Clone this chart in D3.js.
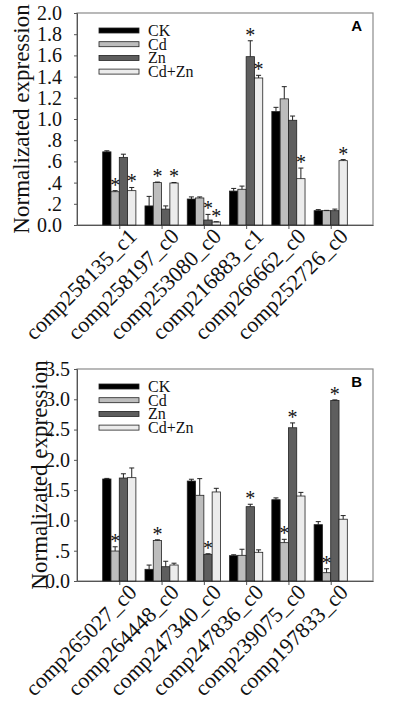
<!DOCTYPE html>
<html>
<head>
<meta charset="utf-8">
<script src="https://cdn.jsdelivr.net/npm/d3@7"></script>
<style>
  body { margin: 0; background: #fff; }
  svg text { font-family: "Liberation Serif", "DejaVu Serif", "Times New Roman", serif !important; }
  svg text.letter { font-family: "Liberation Sans", Arial, sans-serif !important; }
</style>
</head>
<body>
<div id="chart"></div>
<script>
// series names, shared by both panels
var series = ["CK", "Cd", "Zn", "Cd+Zn"];
var seriesColors = ["#000000", "#bdbdbd", "#5e5e5e", "#ececec"];

// Panel A data
var categoriesA = ["comp258135_c1", "comp258197_c0", "comp253080_c0", "comp216883_c1", "comp266662_c0", "comp252726_c0"];
var ckA = [0.69, 0.18, 0.245, 0.32, 1.07, 0.135];
var ckErrA = [0.01, 0.09, 0.02, 0.025, 0.04, 0.01];
var cdA = [0.314, 0.40, 0.255, 0.337, 1.19, 0.135];
var cdErrA = [0.01, 0.005, 0.01, 0.03, 0.115, 0.003];
var znA = [0.638, 0.15, 0.047, 1.588, 0.988, 0.135];
var znErrA = [0.03, 0.03, 0.053, 0.15, 0.04, 0.015];
var cdznA = [0.324, 0.396, 0.028, 1.387, 0.437, 0.607];
var cdznErrA = [0.03, 0.005, 0.003, 0.025, 0.1, 0.01];
// significance marks (1 = asterisk)
var starsA = [[0, 0, 0, 0, 0, 0], [1, 1, 0, 0, 0, 0], [0, 0, 1, 1, 0, 0], [1, 1, 1, 1, 1, 1]];
var ticksA = [0, 0.2, 0.4, 0.6, 0.8, 1.0, 1.2, 1.4, 1.6, 1.8, 2.0];
var tickLabelsA = ["0.0", ".2", ".4", ".6", ".8", "1.0", "1.2", "1.4", "1.6", "1.8", "2.0"];

// Panel B data
var categoriesB = ["comp265027_c0", "comp264448_c0", "comp247340_c0", "comp247836_c0", "comp239075_c0", "comp197833_c0"];
var ckB = [1.684, 0.193, 1.65, 0.418, 1.342, 0.93];
var ckErrB = [0.01, 0.07, 0.03, 0.015, 0.03, 0.05];
var cdB = [0.495, 0.67, 1.415, 0.424, 0.633, 0.137];
var cdErrB = [0.07, 0.01, 0.275, 0.1, 0.055, 0.065];
var znB = [1.70, 0.236, 0.44, 1.227, 2.53, 2.98];
var znErrB = [0.07, 0.09, 0.01, 0.04, 0.08, 0.01];
var cdznB = [1.706, 0.264, 1.47, 0.474, 1.403, 1.02];
var cdznErrB = [0.16, 0.03, 0.06, 0.04, 0.06, 0.06];
var starsB = [[0, 0, 0, 0, 0, 0], [1, 1, 0, 0, 1, 1], [0, 0, 1, 1, 1, 1], [0, 0, 0, 0, 0, 0]];
var ticksB = [0, 0.5, 1.0, 1.5, 2.0, 2.5, 3.0, 3.5];
var tickLabelsB = ["0.0", ".5", "1.0", "1.5", "2.0", "2.5", "3.0", "3.5"];

var W = 397, H = 709;
var svg = d3.select("#chart").append("svg")
    .attr("width", W)
    .attr("height", H);

function drawPanel(p) {
    var g = svg.append("g");
    var left = 77, right = 373;

    var x = d3.scalePoint()
        .domain(p.categories)
        .range([left, right])
        .padding(1);

    var xSub = d3.scaleBand()
        .domain(series)
        .range([-16.6, 16.6]);

    var y = d3.scaleLinear()
        .domain([0, p.ymax])
        .range([p.bottom, p.top]);

    // frame
    g.append("rect")
        .attr("x", left).attr("y", p.top)
        .attr("width", right - left).attr("height", p.bottom - p.top)
        .attr("fill", "none")
        .attr("stroke", "#8a8a8a")
        .attr("stroke-width", 1.2);

    // y axis
    var yAxis = g.append("g")
        .attr("transform", "translate(" + left + ",0)")
        .call(d3.axisLeft(y).tickValues(p.ticks).tickSize(3).tickPadding(p.tickPad)
            .tickFormat(function (d, i) { return p.tickLabels[i]; }));
    yAxis.select(".domain").attr("stroke", "#555");
    yAxis.selectAll(".tick line").attr("stroke", "#555");
    yAxis.selectAll("text")
        .attr("font-size", 20)
        .attr("fill", "#111");

    // x axis
    var xAxis = g.append("g")
        .attr("transform", "translate(0," + p.bottom + ")")
        .call(d3.axisBottom(x).tickSize(4).tickSizeOuter(0));
    xAxis.select(".domain").attr("stroke", "#555");
    xAxis.selectAll(".tick line").attr("stroke", "#555");
    xAxis.selectAll("text")
        .attr("font-size", 22)
        .attr("fill", "#111")
        .style("text-anchor", "end")
        .attr("x", 4)
        .attr("y", 14)
        .attr("dy", "0.35em")
        .attr("transform", "rotate(-45)");

    // y axis title
    g.append("text")
        .attr("transform", "translate(" + p.titleX + "," + ((p.top + p.bottom) / 2) + ") rotate(-90)")
        .attr("text-anchor", "middle")
        .attr("font-size", 23)
        .attr("fill", "#111")
        .text("Normalizated expression");

    // bars
    var rows = [];
    p.values.forEach(function (vals, s) {
        vals.forEach(function (v, i) {
            rows.push({
                cat: p.categories[i],
                s: series[s],
                color: seriesColors[s],
                value: v,
                err: p.errors[s][i],
                star: p.stars[s][i]
            });
        });
    });

    var bw = xSub.bandwidth();
    g.selectAll(".bar")
        .data(rows)
        .enter()
        .append("rect")
        .attr("x", function (d) { return x(d.cat) + xSub(d.s); })
        .attr("y", function (d) { return y(d.value); })
        .attr("width", bw)
        .attr("height", function (d) { return p.bottom - y(d.value); })
        .attr("fill", function (d) { return d.color; })
        .attr("stroke", "#222")
        .attr("stroke-width", 0.8);

    // error bars (upper only)
    var eb = g.selectAll(".err")
        .data(rows)
        .enter()
        .append("g");
    eb.append("line")
        .attr("x1", function (d) { return x(d.cat) + xSub(d.s) + bw / 2; })
        .attr("x2", function (d) { return x(d.cat) + xSub(d.s) + bw / 2; })
        .attr("y1", function (d) { return y(d.value); })
        .attr("y2", function (d) { return y(d.value + d.err); })
        .attr("stroke", "#222")
        .attr("stroke-width", 1);
    eb.append("line")
        .attr("x1", function (d) { return x(d.cat) + xSub(d.s) + bw / 2 - 2.5; })
        .attr("x2", function (d) { return x(d.cat) + xSub(d.s) + bw / 2 + 2.5; })
        .attr("y1", function (d) { return y(d.value + d.err); })
        .attr("y2", function (d) { return y(d.value + d.err); })
        .attr("stroke", "#222")
        .attr("stroke-width", 1);

    // asterisks
    g.selectAll(".star")
        .data(rows.filter(function (d) { return d.star; }))
        .enter()
        .append("text")
        .attr("x", function (d) { return x(d.cat) + xSub(d.s) + bw / 2; })
        .attr("y", function (d) { return y(d.value + d.err) + 1; })
        .attr("text-anchor", "middle")
        .attr("font-size", 20)
        .attr("fill", "#111")
        .text("*");

    // legend
    var lg = g.append("g");
    series.forEach(function (s, i) {
        var ly = p.top + 17.5 + i * 13.7;
        lg.append("rect")
            .attr("x", 99).attr("y", ly - 2.5)
            .attr("width", 40).attr("height", 5)
            .attr("fill", seriesColors[i])
            .attr("stroke", "#222")
            .attr("stroke-width", 0.8);
        lg.append("text")
            .attr("x", 148).attr("y", ly + 5.5)
            .attr("font-size", 16)
            .attr("fill", "#111")
            .text(s);
    });

    // panel letter
    g.append("text")
        .attr("class", "letter")
        .attr("x", 362).attr("y", p.top + 18)
        .attr("text-anchor", "end")
        .attr("font-weight", "bold")
        .attr("font-size", 15)
        .text(p.letter);
}

drawPanel({
    letter: "A",
    categories: categoriesA,
    values: [ckA, cdA, znA, cdznA],
    errors: [ckErrA, cdErrA, znErrA, cdznErrA],
    stars: starsA,
    ticks: ticksA,
    tickLabels: tickLabelsA,
    ymax: 2.0,
    top: 13,
    bottom: 225,
    tickPad: 12,
    titleX: 29
});

drawPanel({
    letter: "B",
    categories: categoriesB,
    values: [ckB, cdB, znB, cdznB],
    errors: [ckErrB, cdErrB, znErrB, cdznErrB],
    stars: starsB,
    ticks: ticksB,
    tickLabels: tickLabelsB,
    ymax: 3.5,
    top: 369,
    bottom: 581,
    tickPad: 4,
    titleX: 47
});
</script>
</body>
</html>
